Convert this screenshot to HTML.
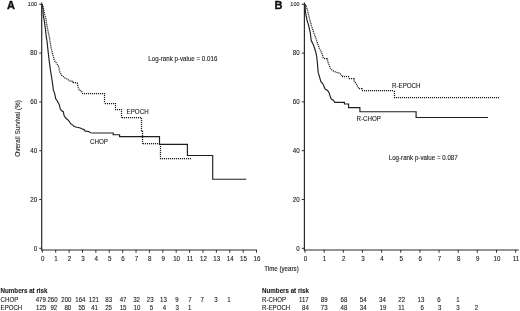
<!DOCTYPE html>
<html><head><meta charset="utf-8">
<style>
html,body{margin:0;padding:0;background:#fff;width:520px;height:311px;overflow:hidden}
svg{display:block;will-change:transform}
text{font-family:"Liberation Sans", sans-serif;fill:#1a1a1a;stroke:#1a1a1a;stroke-width:0.1px}
.ax{stroke:#2a2a2a;stroke-width:1.2}
.tk{stroke:#2a2a2a;stroke-width:1}
.yl,.xl{font-size:6.2px}
.lb{font-size:6.2px}
.tt{font-size:6.1px}
.bt{font-size:6.2px;font-weight:bold}
.pl{font-size:11px;font-weight:bold;fill:#111;stroke:#111;stroke-width:0.35px}
.sol{fill:none;stroke:#1e1e1e;stroke-width:1.15;stroke-linejoin:miter;stroke-miterlimit:3}
.dot{fill:none;stroke:#1a1a1a;stroke-width:1.25;stroke-dasharray:1 1}
.dotu{fill:none;stroke:#d0d0d0;stroke-width:0.7}
</style></head>
<body>
<svg width="520" height="311" viewBox="0 0 520 311">
<text class="pl" x="7" y="8.7">A</text>
<text class="pl" x="274.6" y="8.9">B</text>
<line x1="41.7" y1="2.5" x2="41.7" y2="250.6" class="ax"/>
<line x1="41.1" y1="250" x2="256.9" y2="250" class="ax"/>
<line x1="39.3" y1="248.30" x2="41.7" y2="248.30" class="tk"/>
<text transform="translate(37.2,250.50) scale(1,1.12)" class="yl" text-anchor="end">0</text>
<line x1="39.3" y1="199.50" x2="41.7" y2="199.50" class="tk"/>
<text transform="translate(37.2,201.70) scale(1,1.12)" class="yl" text-anchor="end">20</text>
<line x1="39.3" y1="150.70" x2="41.7" y2="150.70" class="tk"/>
<text transform="translate(37.2,152.90) scale(1,1.12)" class="yl" text-anchor="end">40</text>
<line x1="39.3" y1="101.90" x2="41.7" y2="101.90" class="tk"/>
<text transform="translate(37.2,104.10) scale(1,1.12)" class="yl" text-anchor="end">60</text>
<line x1="39.3" y1="53.10" x2="41.7" y2="53.10" class="tk"/>
<text transform="translate(37.2,55.30) scale(1,1.12)" class="yl" text-anchor="end">80</text>
<line x1="39.3" y1="4.30" x2="41.7" y2="4.30" class="tk"/>
<text transform="translate(37.0,5.8) scale(1,1.12)" class="yl" style="font-size:5.5px" text-anchor="end">100</text>
<line x1="42.30" y1="250" x2="42.30" y2="252.7" class="tk"/>
<text transform="translate(42.70,260.6) scale(1,1.12)" class="xl" text-anchor="middle">0</text>
<line x1="55.69" y1="250" x2="55.69" y2="252.7" class="tk"/>
<text transform="translate(56.09,260.6) scale(1,1.12)" class="xl" text-anchor="middle">1</text>
<line x1="69.08" y1="250" x2="69.08" y2="252.7" class="tk"/>
<text transform="translate(69.48,260.6) scale(1,1.12)" class="xl" text-anchor="middle">2</text>
<line x1="82.47" y1="250" x2="82.47" y2="252.7" class="tk"/>
<text transform="translate(82.87,260.6) scale(1,1.12)" class="xl" text-anchor="middle">3</text>
<line x1="95.86" y1="250" x2="95.86" y2="252.7" class="tk"/>
<text transform="translate(96.26,260.6) scale(1,1.12)" class="xl" text-anchor="middle">4</text>
<line x1="109.25" y1="250" x2="109.25" y2="252.7" class="tk"/>
<text transform="translate(109.65,260.6) scale(1,1.12)" class="xl" text-anchor="middle">5</text>
<line x1="122.64" y1="250" x2="122.64" y2="252.7" class="tk"/>
<text transform="translate(123.04,260.6) scale(1,1.12)" class="xl" text-anchor="middle">6</text>
<line x1="136.03" y1="250" x2="136.03" y2="252.7" class="tk"/>
<text transform="translate(136.43,260.6) scale(1,1.12)" class="xl" text-anchor="middle">7</text>
<line x1="149.42" y1="250" x2="149.42" y2="252.7" class="tk"/>
<text transform="translate(149.82,260.6) scale(1,1.12)" class="xl" text-anchor="middle">8</text>
<line x1="162.81" y1="250" x2="162.81" y2="252.7" class="tk"/>
<text transform="translate(163.21,260.6) scale(1,1.12)" class="xl" text-anchor="middle">9</text>
<line x1="176.20" y1="250" x2="176.20" y2="252.7" class="tk"/>
<text transform="translate(176.60,260.6) scale(1,1.12)" class="xl" text-anchor="middle">10</text>
<line x1="189.59" y1="250" x2="189.59" y2="252.7" class="tk"/>
<text transform="translate(189.99,260.6) scale(1,1.12)" class="xl" text-anchor="middle">11</text>
<line x1="202.98" y1="250" x2="202.98" y2="252.7" class="tk"/>
<text transform="translate(203.38,260.6) scale(1,1.12)" class="xl" text-anchor="middle">12</text>
<line x1="216.37" y1="250" x2="216.37" y2="252.7" class="tk"/>
<text transform="translate(216.77,260.6) scale(1,1.12)" class="xl" text-anchor="middle">13</text>
<line x1="229.76" y1="250" x2="229.76" y2="252.7" class="tk"/>
<text transform="translate(230.16,260.6) scale(1,1.12)" class="xl" text-anchor="middle">14</text>
<line x1="243.15" y1="250" x2="243.15" y2="252.7" class="tk"/>
<text transform="translate(243.55,260.6) scale(1,1.12)" class="xl" text-anchor="middle">15</text>
<line x1="256.54" y1="250" x2="256.54" y2="252.7" class="tk"/>
<text transform="translate(256.94,260.6) scale(1,1.12)" class="xl" text-anchor="middle">16</text>
<line x1="304.4" y1="2.5" x2="304.4" y2="250.6" class="ax"/>
<line x1="303.79999999999995" y1="250" x2="518.8" y2="250" class="ax"/>
<line x1="301.8" y1="248.30" x2="304.4" y2="248.30" class="tk"/>
<text transform="translate(299.7,250.50) scale(1,1.12)" class="yl" text-anchor="end">0</text>
<line x1="301.8" y1="199.50" x2="304.4" y2="199.50" class="tk"/>
<text transform="translate(299.7,201.70) scale(1,1.12)" class="yl" text-anchor="end">20</text>
<line x1="301.8" y1="150.70" x2="304.4" y2="150.70" class="tk"/>
<text transform="translate(299.7,152.90) scale(1,1.12)" class="yl" text-anchor="end">40</text>
<line x1="301.8" y1="101.90" x2="304.4" y2="101.90" class="tk"/>
<text transform="translate(299.7,104.10) scale(1,1.12)" class="yl" text-anchor="end">60</text>
<line x1="301.8" y1="53.10" x2="304.4" y2="53.10" class="tk"/>
<text transform="translate(299.7,55.30) scale(1,1.12)" class="yl" text-anchor="end">80</text>
<line x1="301.8" y1="4.30" x2="304.4" y2="4.30" class="tk"/>
<text transform="translate(299.5,5.8) scale(1,1.12)" class="yl" style="font-size:5.5px" text-anchor="end">100</text>
<line x1="305.00" y1="250" x2="305.00" y2="252.7" class="tk"/>
<text transform="translate(305.40,260.6) scale(1,1.12)" class="xl" text-anchor="middle">0</text>
<line x1="324.15" y1="250" x2="324.15" y2="252.7" class="tk"/>
<text transform="translate(324.55,260.6) scale(1,1.12)" class="xl" text-anchor="middle">1</text>
<line x1="343.30" y1="250" x2="343.30" y2="252.7" class="tk"/>
<text transform="translate(343.70,260.6) scale(1,1.12)" class="xl" text-anchor="middle">2</text>
<line x1="362.45" y1="250" x2="362.45" y2="252.7" class="tk"/>
<text transform="translate(362.85,260.6) scale(1,1.12)" class="xl" text-anchor="middle">3</text>
<line x1="381.60" y1="250" x2="381.60" y2="252.7" class="tk"/>
<text transform="translate(382.00,260.6) scale(1,1.12)" class="xl" text-anchor="middle">4</text>
<line x1="400.75" y1="250" x2="400.75" y2="252.7" class="tk"/>
<text transform="translate(401.15,260.6) scale(1,1.12)" class="xl" text-anchor="middle">5</text>
<line x1="419.90" y1="250" x2="419.90" y2="252.7" class="tk"/>
<text transform="translate(420.30,260.6) scale(1,1.12)" class="xl" text-anchor="middle">6</text>
<line x1="439.05" y1="250" x2="439.05" y2="252.7" class="tk"/>
<text transform="translate(439.45,260.6) scale(1,1.12)" class="xl" text-anchor="middle">7</text>
<line x1="458.20" y1="250" x2="458.20" y2="252.7" class="tk"/>
<text transform="translate(458.60,260.6) scale(1,1.12)" class="xl" text-anchor="middle">8</text>
<line x1="477.35" y1="250" x2="477.35" y2="252.7" class="tk"/>
<text transform="translate(477.75,260.6) scale(1,1.12)" class="xl" text-anchor="middle">9</text>
<line x1="496.50" y1="250" x2="496.50" y2="252.7" class="tk"/>
<text transform="translate(496.90,260.6) scale(1,1.12)" class="xl" text-anchor="middle">10</text>
<line x1="515.65" y1="250" x2="515.65" y2="252.7" class="tk"/>
<text transform="translate(516.05,260.6) scale(1,1.12)" class="xl" text-anchor="middle">11</text>
<path d="M42.3,4.3 L43.4,8.4 L44.8,14.9 L46.1,18.7 L46.4,22 L47.7,29.6 L49.6,38 L49.8,40 L50.8,46.4 L52,51.6 L53.3,56.1 L54.3,60.3 L56.8,63.7 L58.7,66.6 L59.6,71.4 L61.6,75.3 L64.5,77.7 L67.4,79.1 L69.3,80.6 L70,81 L72.7,81 L73.1,82.9 L77.3,82.9 L77.7,85.6 L78.5,88.3 L79.6,90.3 L81.6,91.4 L82.3,93.3 L104.6,93.3 L104.6,103.3 L115.3,103.3 L115.3,109.3 L121.5,109.3 L121.5,117.8 L141.6,117.8 L141.6,131.3 L142.8,131.3 L142.8,143.8 L160.3,143.8 L160.3,158.8 L191.1,158.8" class="dotu"/><path d="M42.3,4.3 L43.4,8.4 L44.8,14.9 L46.1,18.7 L46.4,22.0 L47.7,29.6 L49.6,38.0 L49.8,40.0 L50.8,46.4 L52.0,51.6 L53.3,56.1 L54.3,60.3 L56.8,63.7 L58.7,66.6 L59.6,71.4 L61.6,75.3 L64.5,77.7 L67.4,79.1 L69.3,80.6 L70.0,81.0 L72.7,81.0 L73.1,82.9 M73,82.5 L77.3,82.5 M77.3,82.9 L77.7,85.6 L78.5,88.3 L79.6,90.3 L81.6,91.4 L82.3,93.3 M82,93.5 L104.6,93.5 M104.5,93 L104.5,103.3 M105,103.5 L115.3,103.5 M115.5,103 L115.5,109.3 M115,109.5 L121.5,109.5 M121.5,109 L121.5,117.8 M122,117.5 L141.6,117.5 M141.5,118 L141.5,131.3 M141.6,131.3 L142.8,131.3 M142.5,131 L142.5,143.8 M143,143.5 L160.3,143.5 M160.5,144 L160.5,158.8 M160,158.5 L191.1,158.5" class="dot"/>
<path d="M42.3,4.3 L42.9,8.4 L43.2,14.9 L43.9,18.7 L44.5,22 L45.5,29.6 L46.4,38 L46.9,40 L47.9,49.6 L49.1,60 L50.5,70.5 L51.9,79.1 L52.6,84 L53.4,90.2 L54.6,93.3 L55.7,98.7 L57.3,101 L59.2,104.4 L60.2,108.6 L61.4,110.6 L63.3,111.7 L64.1,115.6 L66,118.3 L68.7,120.6 L70.7,123.7 L73.4,125.6 L74,126.5 L77.1,127.3 L80.2,128 L81.7,128.8 L84,129.6 L85.2,131.1 L88.7,131.5 L90.6,132.7 L92.5,133 L113.2,133 L113.2,134.7 L119.6,134.7 L119.6,136.6 L159.5,136.6 L159.5,144.3 L187.4,144.3 L187.4,155.5 L212.7,155.5 L212.7,179.2 L246.3,179.2" class="sol"/>
<path d="M305,4.3 L306.3,6 L307.8,11.6 L309.7,19.4 L311.6,26.1 L313.6,32 L314.1,33.8 L316,38.6 L317.5,43.4 L319.4,48.3 L321.8,53.1 L323.5,58.4 L327.4,58.4 L327.8,61.8 L329.3,65.6 L330.7,69 L333.1,70.9 L336.5,72.4 L339.9,73.2 L342.3,76.1 L348.5,76.1 L349,78.5 L354.3,78.5 L354.3,81.4 L356.3,83.8 L357.7,86.7 L358.7,88.2 L362,88.2 L362.5,90.9 L394.2,90.9 L394.2,97.4 L499.4,97.4" class="dotu"/><path d="M305.0,4.3 L306.3,6.0 L307.8,11.6 L309.7,19.4 L311.6,26.1 L313.6,32.0 L314.1,33.8 L316.0,38.6 L317.5,43.4 L319.4,48.3 L321.8,53.1 L323.5,58.4 M324,58.5 L327.4,58.5 M327.4,58.4 L327.8,61.8 L329.3,65.6 L330.7,69.0 L333.1,70.9 L336.5,72.4 L339.9,73.2 L342.3,76.1 M342,76.5 L348.5,76.5 M348.5,76.1 L349.0,78.5 M349,78.5 L354.3,78.5 M354.3,78.5 L354.3,81.4 L356.3,83.8 L357.7,86.7 L358.7,88.2 M359,88.5 L362.0,88.5 M362.0,88.2 L362.5,90.9 M362,90.5 L394.2,90.5 M394.5,91 L394.5,97.4 M394,97.5 L499.4,97.5" class="dot"/>
<path d="M305,4.3 L305.4,11.6 L306.8,19.4 L308.8,26.1 L310.3,32.8 L311.2,40.5 L313.2,44.4 L314.6,48.3 L316,53.1 L316.6,56 L317.2,60.8 L317.7,66.6 L318.2,72.4 L319.6,77.2 L320.8,81.4 L322.8,83.8 L325.2,89.1 L327.6,90.5 L329,92.5 L330.5,97.3 L331.4,99.2 L333.4,100.2 L334.8,102.4 L344.4,102.4 L344.4,104 L348.6,104 L348.6,107.6 L359.9,107.6 L359.9,111.7 L416.1,111.7 L416.1,117.5 L487.9,117.5" class="sol"/>
<text transform="translate(148.3,61.2) scale(1,1.12)" class="lb">Log-rank p-value = 0.016</text>
<text transform="translate(388.7,159.7) scale(1,1.12)" class="lb">Log-rank p-value = 0.087</text>
<text transform="translate(126.6,113.7) scale(1,1.12)" class="lb">EPOCH</text>
<text transform="translate(90.1,143.9) scale(1,1.12)" class="lb">CHOP</text>
<text transform="translate(392,87.9) scale(1,1.12)" class="lb">R-EPOCH</text>
<text transform="translate(356.5,121.2) scale(1,1.12)" class="lb">R-CHOP</text>
<text transform="translate(264.2,270.6) scale(1,1.12)" class="lb">Time (years)</text>
<text transform="translate(20.3,128.4) rotate(-90) scale(1,1.1)" class="lb" style="font-size:6.4px" text-anchor="middle">Overall Survival (%)</text>
<text transform="translate(0.6,292.5) scale(1,1.12)" class="bt">Numbers at risk</text>
<text transform="translate(0.6,302.1) scale(1,1.12)" class="tt">CHOP</text>
<text transform="translate(0.6,310.1) scale(1,1.12)" class="tt">EPOCH</text>
<text transform="translate(40.75,302.1) scale(1,1.12)" class="tt" text-anchor="middle">479</text>
<text transform="translate(52.5,302.1) scale(1,1.12)" class="tt" text-anchor="middle">260</text>
<text transform="translate(66.35,302.1) scale(1,1.12)" class="tt" text-anchor="middle">200</text>
<text transform="translate(80.4,302.1) scale(1,1.12)" class="tt" text-anchor="middle">164</text>
<text transform="translate(93.85,302.1) scale(1,1.12)" class="tt" text-anchor="middle">121</text>
<text transform="translate(108.75,302.1) scale(1,1.12)" class="tt" text-anchor="middle">83</text>
<text transform="translate(123.1,302.1) scale(1,1.12)" class="tt" text-anchor="middle">47</text>
<text transform="translate(136.55,302.1) scale(1,1.12)" class="tt" text-anchor="middle">32</text>
<text transform="translate(150.2,302.1) scale(1,1.12)" class="tt" text-anchor="middle">23</text>
<text transform="translate(163.45,302.1) scale(1,1.12)" class="tt" text-anchor="middle">13</text>
<text transform="translate(176.95,302.1) scale(1,1.12)" class="tt" text-anchor="middle">9</text>
<text transform="translate(190,302.1) scale(1,1.12)" class="tt" text-anchor="middle">7</text>
<text transform="translate(202.3,302.1) scale(1,1.12)" class="tt" text-anchor="middle">7</text>
<text transform="translate(215.85,302.1) scale(1,1.12)" class="tt" text-anchor="middle">3</text>
<text transform="translate(228.95,302.1) scale(1,1.12)" class="tt" text-anchor="middle">1</text>
<text transform="translate(41.2,310.1) scale(1,1.12)" class="tt" text-anchor="middle">125</text>
<text transform="translate(53.85,310.1) scale(1,1.12)" class="tt" text-anchor="middle">92</text>
<text transform="translate(67.85,310.1) scale(1,1.12)" class="tt" text-anchor="middle">80</text>
<text transform="translate(81.8,310.1) scale(1,1.12)" class="tt" text-anchor="middle">55</text>
<text transform="translate(94.6,310.1) scale(1,1.12)" class="tt" text-anchor="middle">41</text>
<text transform="translate(108.6,310.1) scale(1,1.12)" class="tt" text-anchor="middle">25</text>
<text transform="translate(123.1,310.1) scale(1,1.12)" class="tt" text-anchor="middle">15</text>
<text transform="translate(136.9,310.1) scale(1,1.12)" class="tt" text-anchor="middle">10</text>
<text transform="translate(151.55,310.1) scale(1,1.12)" class="tt" text-anchor="middle">5</text>
<text transform="translate(164.5,310.1) scale(1,1.12)" class="tt" text-anchor="middle">4</text>
<text transform="translate(177.1,310.1) scale(1,1.12)" class="tt" text-anchor="middle">3</text>
<text transform="translate(189.65,310.1) scale(1,1.12)" class="tt" text-anchor="middle">1</text>
<text transform="translate(262.1,292.5) scale(1,1.12)" class="bt">Numbers at risk</text>
<text transform="translate(262.1,301.8) scale(1,1.12)" class="tt">R-CHOP</text>
<text transform="translate(262.1,309.9) scale(1,1.12)" class="tt">R-EPOCH</text>
<text transform="translate(303.85,301.8) scale(1,1.12)" class="tt" text-anchor="middle">117</text>
<text transform="translate(324.25,301.8) scale(1,1.12)" class="tt" text-anchor="middle">89</text>
<text transform="translate(344,301.8) scale(1,1.12)" class="tt" text-anchor="middle">68</text>
<text transform="translate(363.2,301.8) scale(1,1.12)" class="tt" text-anchor="middle">54</text>
<text transform="translate(382.4,301.8) scale(1,1.12)" class="tt" text-anchor="middle">34</text>
<text transform="translate(401.7,301.8) scale(1,1.12)" class="tt" text-anchor="middle">22</text>
<text transform="translate(420.9,301.8) scale(1,1.12)" class="tt" text-anchor="middle">13</text>
<text transform="translate(439,301.8) scale(1,1.12)" class="tt" text-anchor="middle">6</text>
<text transform="translate(458,301.8) scale(1,1.12)" class="tt" text-anchor="middle">1</text>
<text transform="translate(305.4,309.9) scale(1,1.12)" class="tt" text-anchor="middle">84</text>
<text transform="translate(324.25,309.9) scale(1,1.12)" class="tt" text-anchor="middle">73</text>
<text transform="translate(344,309.9) scale(1,1.12)" class="tt" text-anchor="middle">48</text>
<text transform="translate(363.2,309.9) scale(1,1.12)" class="tt" text-anchor="middle">34</text>
<text transform="translate(382.9,309.9) scale(1,1.12)" class="tt" text-anchor="middle">19</text>
<text transform="translate(401.4,309.9) scale(1,1.12)" class="tt" text-anchor="middle">11</text>
<text transform="translate(422.1,309.9) scale(1,1.12)" class="tt" text-anchor="middle">6</text>
<text transform="translate(439.8,309.9) scale(1,1.12)" class="tt" text-anchor="middle">3</text>
<text transform="translate(458,309.9) scale(1,1.12)" class="tt" text-anchor="middle">3</text>
<text transform="translate(476.5,309.9) scale(1,1.12)" class="tt" text-anchor="middle">2</text>
</svg>
</body></html>
